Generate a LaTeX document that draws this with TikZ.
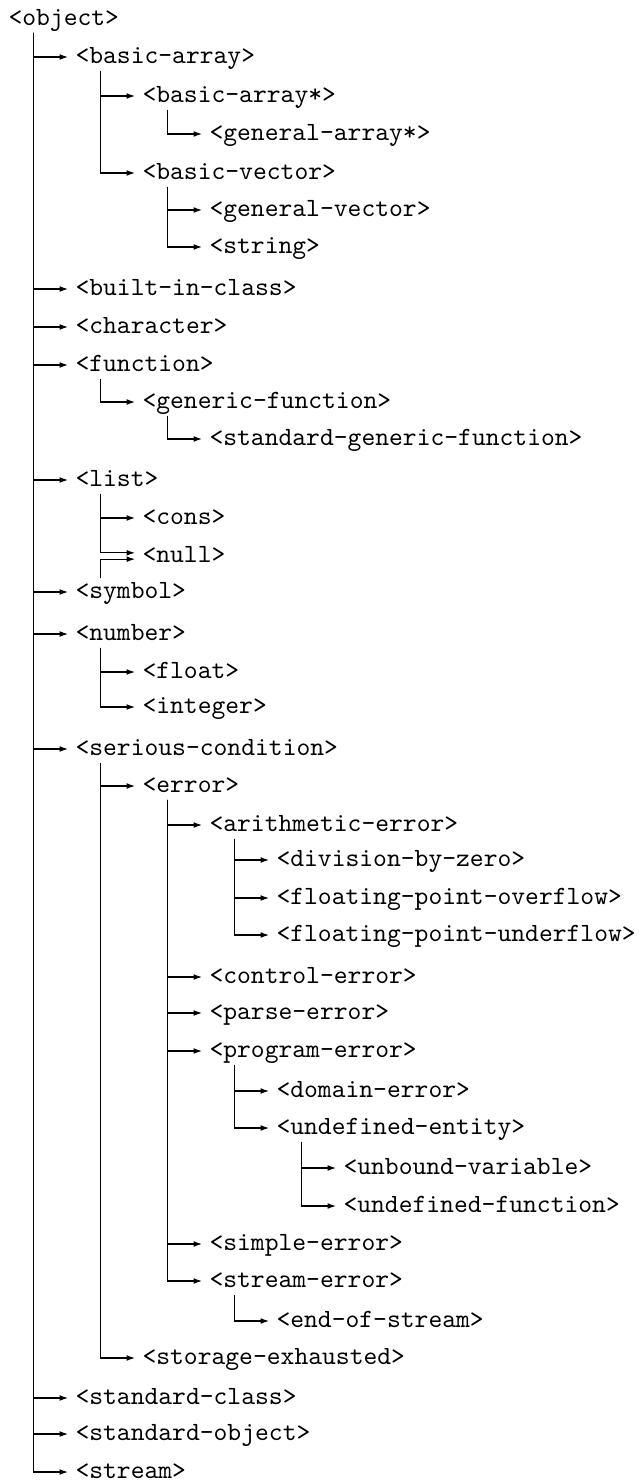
\documentclass[tikz,border=0pt]{standalone}
\usetikzlibrary{arrows.meta}
\begin{document}
\begin{tikzpicture}[x=0.38pt, y=-0.38pt,
  cls/.style={anchor=west, font=\ttfamily, inner xsep=2.66pt, inner ysep=0pt,
              text height=7pt, text depth=2pt},
  arr/.style={-{Latex[length=3.2pt,width=2.2pt]}}]
  \def\dx{67}      % indent per level
  \def\sx{12.2pt}  % stem offset from node west
  \useasboundingbox (0,0) rectangle (640,1483);
  % classes: name/level/row y/label
  \foreach \n/\lv/\yy/\lab in {%
     obj/0/19/object, barr/1/57/basic-array, barrs/2/96/basic-array*,
     garrs/3/134/general-array*, bvec/2/173/basic-vector,
     gvec/3/210/general-vector, str/3/247/string,
     bic/1/289/built-in-class, chr/1/327/character, fun/1/365/function,
     gfun/2/402/generic-function, sgfun/3/439/standard-generic-function,
     lst/1/480/list, cons/2/518/cons, nul/2/556/null, sym/1/592/symbol,
     num/1/634/number, flt/2/672/float, int/2/707/integer,
     scond/1/749/serious-condition, err/2/786/error,
     arith/3/825/arithmetic-error, divz/4/860/division-by-zero,
     fpo/4/898/floating-point-overflow, fpu/4/935/floating-point-underflow,
     ctrl/3/977/control-error, parse/3/1013/parse-error,
     prog/3/1051/program-error, dom/4/1091/domain-error,
     undef/4/1128/undefined-entity, unbv/5/1168/unbound-variable,
     undf/5/1206/undefined-function, simp/3/1244/simple-error,
     serr/3/1281/stream-error, eos/4/1321/end-of-stream,
     stor/2/1358/storage-exhausted, scls/1/1398/standard-class,
     sobj/1/1434/standard-object, strm/1/1472/stream}
    \node[cls] (\n) at (\lv*\dx+1,\yy) {<\lab>};
  % parent -> child links
  \foreach \p/\c in {%
     obj/barr, barr/barrs, barrs/garrs, barr/bvec, bvec/gvec, bvec/str,
     obj/bic, obj/chr, obj/fun, fun/gfun, gfun/sgfun, obj/lst, lst/cons,
     obj/sym, obj/num, num/flt, num/int, obj/scond, scond/err, err/arith,
     arith/divz, arith/fpo, arith/fpu, err/ctrl, err/parse, err/prog,
     prog/dom, prog/undef, undef/unbv, undef/undf, err/simp, err/serr,
     serr/eos, scond/stor, obj/scls, obj/sobj, obj/strm}
    \draw[arr] ([xshift=\sx,yshift=-0.5pt]\p.south west) |- (\c.west);
  % <null> has two parents
  \draw[arr] ([xshift=\sx,yshift=-0.5pt]lst.south west) |- ([yshift=1.2pt]nul.west);
  \draw[arr] ([xshift=\sx,yshift=0.5pt]sym.north west) |- ([yshift=-1.2pt]nul.west);
\end{tikzpicture}
\end{document}
